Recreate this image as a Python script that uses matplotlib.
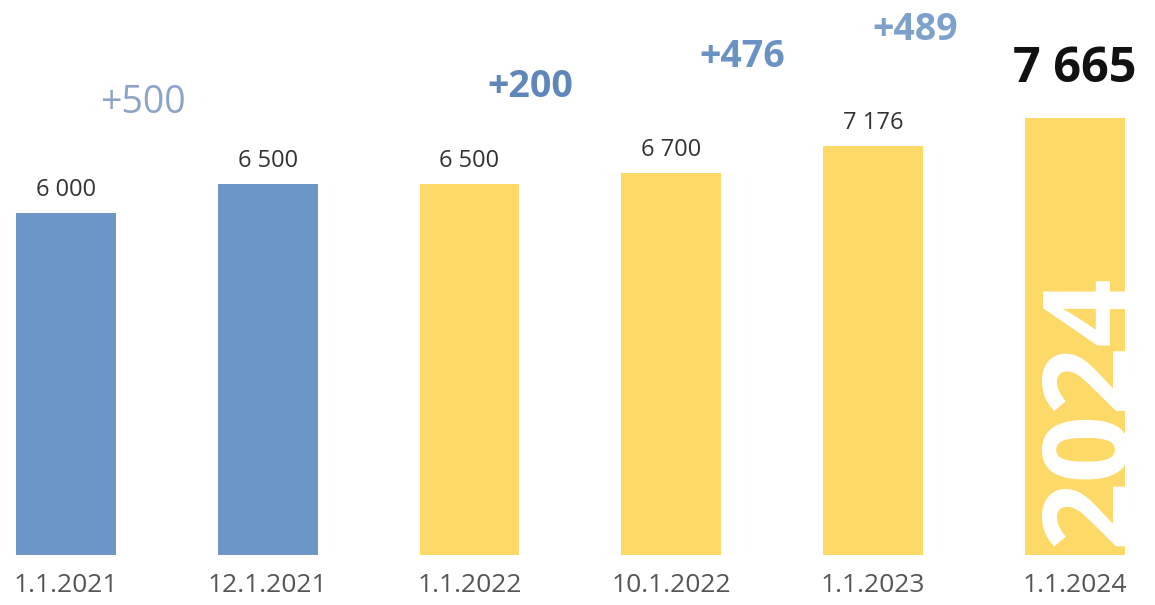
import matplotlib.pyplot as plt

# data
dates = ['1.1.2021', '12.1.2021', '1.1.2022', '10.1.2022', '1.1.2023', '1.1.2024']
values = [6000, 6500, 6500, 6700, 7176, 7665]
value_labels = ['6 000', '6 500', '6 500', '6 700', '7 176', '7 665']
increases = ['+500', '+200', '+476', '+489']

blue = '#6b96c5'
yellow = '#fdd967'
bar_colors = [blue, blue, yellow, yellow, yellow, yellow]

plt.rcParams['font.family'] = ['Open Sans', 'DejaVu Sans']

fig = plt.figure(figsize=(11.55, 6.05), dpi=100)
ax = fig.add_axes([0, 50 / 605, 1, 555 / 605])

x = list(range(len(values)))
ax.bar(x, values, width=0.495, color=bar_colors)
ax.set_xlim(-0.327, 5.397)
ax.set_ylim(0, 9736)

# value labels over bars (last one is big and bold)
for i, (v, lab) in enumerate(zip(values[:-1], value_labels[:-1])):
    ax.text(i, v + 200, lab, ha='center', va='bottom', fontsize=17, color='#333333')
ax.text(5, values[-1] + 420, value_labels[-1], ha='center', va='bottom',
        fontsize=35, fontweight='bold', color='#111111')

# increase annotations
inc_x = [0.38, 2.30, 3.35, 4.21]
inc_y = [7930, 8210, 8740, 9210]
inc_colors = ['#8da4c8', '#5f87b9', '#6a92c5', '#7ea1cc']
inc_weights = ['normal', 'bold', 'bold', 'bold']
for s, xx, yy, c, w in zip(increases, inc_x, inc_y, inc_colors, inc_weights):
    ax.text(xx, yy, s, ha='center', va='center', fontsize=27, color=c, fontweight=w)

# big year in the last bar
ax.text(5.09, 150, '2024', rotation=90, ha='center', va='bottom',
        fontsize=86, fontweight='bold', color='white')

ax.set_xticks(x)
ax.set_xticklabels(dates, fontsize=19, color='#555555')
ax.tick_params(axis='x', length=0, pad=13)
ax.set_yticks([])
for sp in ax.spines.values():
    sp.set_visible(False)

fig.savefig('out.png', dpi=100)
